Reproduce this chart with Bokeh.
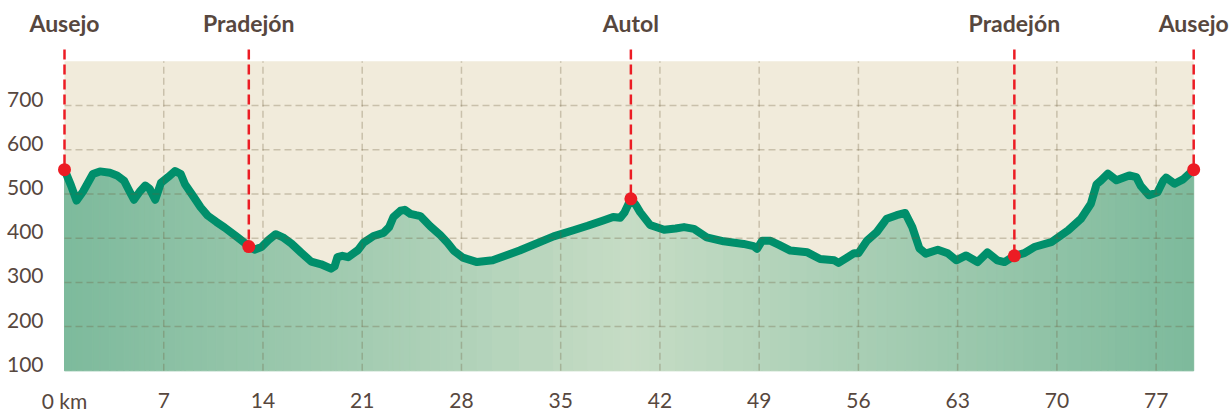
from bokeh.plotting import figure
from bokeh.models import Range1d
from bokeh.core.properties import value
from bokeh.embed import file_html
from bokeh.resources import INLINE

# ---------------- data ----------------
km = [0.0, 0.45, 0.85, 1.3, 2.0, 2.5, 3.2, 3.7, 4.2, 4.6, 4.9, 5.3, 5.7, 6.0, 6.4, 6.8,
      7.3, 7.8, 8.2, 8.5, 9.1, 9.6, 10.1, 10.7, 11.3, 12.2, 13.0, 13.4, 13.9, 14.4, 14.9,
      15.4, 16.0, 16.7, 17.4, 18.1, 18.8, 19.05, 19.25, 19.6, 20.0, 20.7, 21.1, 21.8, 22.5,
      22.9, 23.2, 23.7, 24.0, 24.4, 24.8, 25.1, 25.8, 26.5, 27.0, 27.45, 28.1, 29.1, 30.2,
      32.1, 34.5, 35.9, 36.9, 38.0, 38.7, 39.2, 39.5, 39.95, 40.3, 40.6, 41.3, 42.3, 43.1,
      43.7, 44.4, 45.3, 46.5, 47.9, 48.6, 48.85, 49.2, 49.8, 50.4, 51.2, 52.4, 53.3, 54.3,
      54.6, 55.2, 55.7, 56.0, 56.6, 57.3, 58.0, 58.7, 59.3, 59.8, 60.3, 60.75, 61.6, 62.3,
      62.9, 63.6, 64.4, 65.1, 65.8, 66.3, 67.0, 67.7, 68.4, 69.6, 70.8, 71.7, 72.4, 72.8,
      73.1, 73.6, 74.2, 75.1, 75.6, 75.9, 76.5, 77.1, 77.5, 77.7, 78.3, 78.9, 79.65]
elev = [555, 520, 485, 505, 545, 551, 548, 542, 530, 505, 487, 505, 519, 512, 487, 525,
        538, 552, 545, 522, 494, 470, 451, 437, 424, 402, 382, 374, 380, 396, 409,
        402, 388, 367, 347, 341, 331, 336, 357, 360, 357, 373, 390, 405, 412,
        425, 448, 462, 464, 455, 452, 450, 427, 407, 390, 372, 356, 346, 350,
        372, 404, 418, 428, 440, 448, 446, 458, 489, 475, 459, 430, 419, 422,
        425, 421, 402, 393, 387, 382, 376, 394, 394, 385, 372, 368, 353, 350,
        344, 356, 366, 366, 394, 414, 444, 452, 457, 425, 377, 365, 374, 366,
        350, 361, 346, 368, 350, 346, 360, 366, 380, 391, 418, 444, 478, 522,
        530, 546, 531, 542, 538, 519, 497, 504, 530, 537, 523, 533, 555]

place_names = ["Ausejo", "Pradejón", "Autol", "Pradejón", "Ausejo"]
place_km = [0.0, 13.0, 39.95, 67.0, 79.65]
place_elev = [555, 381, 489, 360, 555]

x_ticks = [0, 7, 14, 21, 28, 35, 42, 49, 56, 63, 70, 77]
x_tick_labels = ["0 km", "7", "14", "21", "28", "35", "42", "49", "56", "63", "70", "77"]
y_ticks = [100, 200, 300, 400, 500, 600, 700]
y_tick_labels = ["100", "200", "300", "400", "500", "600", "700"]
y_min, y_max = 100, 800

# ---------------- style / geometry ----------------
TEXT = "#57473e"
GREEN = "#008f6b"
RED = "#ec1c24"
BEIGE = "#f1ebdb"
GRID = "#6e5d3c"
EDGE = (125, 186, 156)
CENTER = (198, 220, 197)
FONT = "Lato"

PX_KM = 14.177       # pixels per km
PX_M = 0.4422        # pixels per metre
W, H = 1231, 412
ZERO_PX = 64         # canvas x of 0 km
TOP_PX = 60.8        # canvas y of the 800 m line
Y_LABEL_LIFT = 6.5   # px the y tick labels sit above their grid line

x_start = -ZERO_PX / PX_KM
x_end = x_start + W / PX_KM
y_top = y_max + TOP_PX / PX_M
y_bot = y_top - H / PX_M


def y_at(px):
    return y_top - px / PX_M


def x_at(px):
    return x_start + px / PX_KM


p = figure(width=W, height=H, x_range=Range1d(x_start, x_end), y_range=Range1d(y_bot, y_top),
           output_backend="svg", toolbar_location=None, title=None,
           x_axis_location=None, y_axis_location=None, min_border=0,
           background_fill_color="white", border_fill_color="white", outline_line_color=None)
p.grid.visible = False

# beige panel
p.quad(left=km[0], right=km[-1], bottom=y_min, top=y_max, fill_color=BEIGE, line_color=None)

# gradient area fill
mid = (km[0] + km[-1]) / 2
half = (km[-1] - km[0]) / 2
xs, ys, cols = [], [], []
for i in range(len(km) - 1):
    xs.append([km[i], km[i], km[i + 1], km[i + 1]])
    ys.append([y_min, elev[i], elev[i + 1], y_min])
    t = abs((km[i] + km[i + 1]) / 2 - mid) / half
    c = tuple(int(round(CENTER[k] + (EDGE[k] - CENTER[k]) * t)) for k in range(3))
    cols.append("#%02x%02x%02x" % c)
p.patches(xs=xs, ys=ys, fill_color=cols, line_color=cols, line_width=1)

# profile line
p.line(km, elev, line_color=GREEN, line_width=8, line_join="round", line_cap="round")

# grid lines (over the fill)
gx = x_ticks[1:]
p.segment(x0=gx, y0=y_min, x1=gx, y1=y_max, line_color=GRID, line_alpha=0.3,
          line_width=1.5, line_dash="7 4")
gy = y_ticks[1:]
p.segment(x0=km[0], y0=gy, x1=km[-1], y1=gy, line_color=GRID, line_alpha=0.3,
          line_width=1.5, line_dash="7 4")

# place markers
p.segment(x0=place_km, y0=y_at(49), x1=place_km, y1=place_elev, line_color=RED,
          line_width=2.5, line_dash="10 5")
p.scatter(place_km, place_elev, size=13, fill_color=RED, line_color=None)

# place names
p.text(x=place_km, y=[y_at(22)] * len(place_km), text=place_names, text_align="center",
       text_baseline="alphabetic", text_font=value(FONT), text_font_style="bold",
       text_font_size="23px", text_color=TEXT)

# y tick labels (just above their grid line)
p.text(x=[x_at(43)] * len(y_ticks), y=[v + Y_LABEL_LIFT / PX_M for v in y_ticks],
       text=y_tick_labels, text_align="right", text_baseline="alphabetic",
       text_font=value(FONT), text_font_size="21px", text_color=TEXT)

# x tick labels
p.text(x=x_ticks, y=[y_at(400)] * len(x_ticks), text=x_tick_labels, text_align="center",
       text_baseline="alphabetic", text_font=value(FONT), text_font_size="21px",
       text_color=TEXT)

open("out.html", "w").write(file_html(p, INLINE))
